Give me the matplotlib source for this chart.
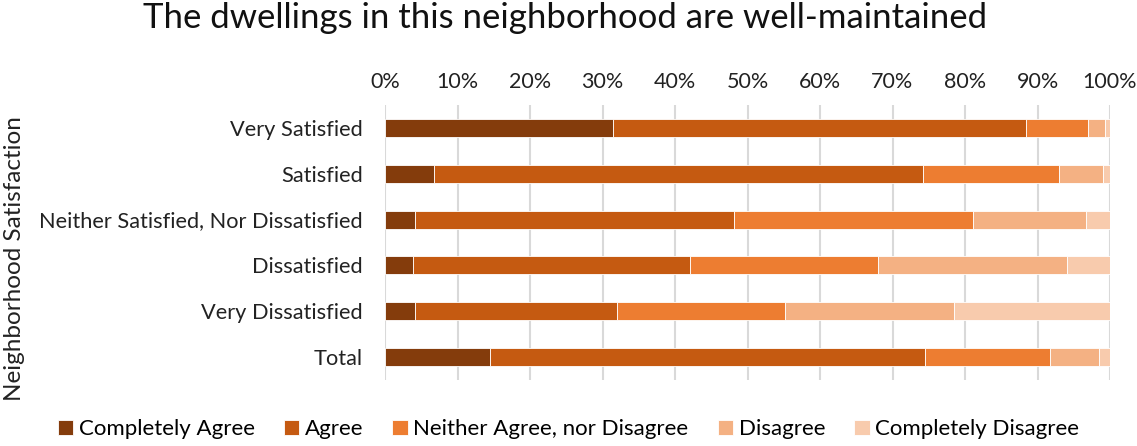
import numpy as np
from matplotlib import pyplot as plt
from matplotlib.ticker import PercentFormatter

plt.rcParams["font.family"] = ["Lato", "DejaVu Sans"]

# Share of responses (%) per satisfaction group
groups = ["Very Satisfied", "Satisfied", "Neither Satisfied, Nor Dissatisfied",
          "Dissatisfied", "Very Dissatisfied", "Total"]
responses = ["Completely Agree", "Agree", "Neither Agree, nor Disagree",
             "Disagree", "Completely Disagree"]
completely_agree = [31.4, 6.8, 4.1, 3.9, 4.2, 14.5]
agree = [57.0, 67.4, 44.1, 38.2, 27.8, 60.0]
neither = [8.5, 18.8, 32.9, 25.9, 23.2, 17.2]
disagree = [2.4, 6.1, 15.6, 26.1, 23.3, 6.8]
completely_disagree = [0.7, 0.9, 3.3, 5.9, 21.5, 1.5]
colors = ["#843C0C", "#C55A11", "#ED7D31", "#F4B183", "#F8CBAD"]

series = [completely_agree, agree, neither, disagree, completely_disagree]

fig = plt.figure(figsize=(11.37, 4.46), dpi=100)
ax = fig.add_axes([385 / 1137, 1 - 380 / 446, 725 / 1137, 275 / 446])

y = np.arange(len(groups))
left = np.zeros(len(groups))
for name, vals, c in zip(responses, series, colors):
    ax.barh(y, vals, left=left, height=0.39, color=c, edgecolor="white",
            linewidth=0.6, label=name, zorder=3)
    left += np.array(vals)

ax.set_xlim(0, 100)
ax.set_ylim(len(groups) - 0.5, -0.5)
ax.set_xticks(np.arange(0, 101, 10))
ax.xaxis.set_major_formatter(PercentFormatter(decimals=0))
ax.xaxis.tick_top()
ax.tick_params(axis="x", length=0, labelsize=15.5, pad=9, colors="#222222")
ax.set_yticks(y)
ax.set_yticklabels(groups)
ax.tick_params(axis="y", length=0, labelsize=15.7, pad=16, colors="#222222")
ax.grid(axis="x", color="#D9D9D9", linewidth=1.5, zorder=0)
for s in ax.spines.values():
    s.set_visible(False)

fig.suptitle("The dwellings in this neighborhood are well-maintained",
             x=0.497, y=0.995, fontsize=25, color="#111111")
fig.text(0.013, 0.42, "Neighborhood Satisfaction", rotation=90,
         fontsize=17.5, va="center", ha="center", color="#222222")

fig.legend(loc="lower center", bbox_to_anchor=(0.5, -0.03), ncol=5,
           frameon=False, fontsize=16, handlelength=0.7, handleheight=0.7,
           handletextpad=0.25, columnspacing=1.3)

fig.savefig("out.png", dpi=100)
